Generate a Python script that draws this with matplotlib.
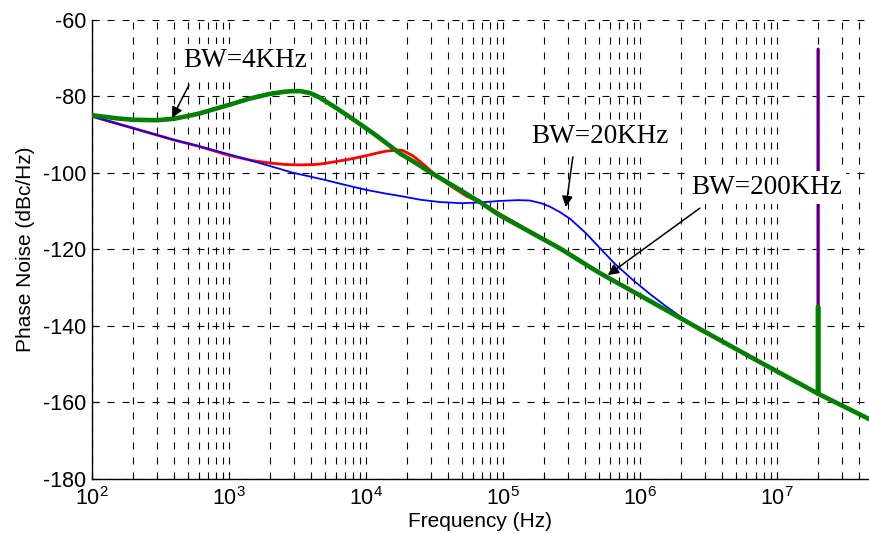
import matplotlib
matplotlib.use("Agg")
import matplotlib.pyplot as plt
from matplotlib.ticker import LogLocator, NullFormatter

plt.rcParams["font.family"] = ["Liberation Sans", "DejaVu Sans"]
plt.rcParams["mathtext.default"] = "regular"
plt.rcParams["axes.unicode_minus"] = False

# BW = 4 kHz loop (green)
f_green = [100, 150, 200, 300, 400, 500, 600, 800, 1000, 1400, 2000, 2500, 2900,
           3300, 3900, 4500, 5770, 7640, 10100, 12000, 14200, 17700, 22000, 30000,
           40000, 68000, 93000, 260000, 500000, 1e6, 2.74e6, 6.35e6, 2e7, 2e7, 2e7,
           4.7e7]
pn_green = [-84.9, -85.7, -86.1, -86.2, -85.8, -85.1, -84.5, -83.2, -82.2, -80.6,
            -79.3, -78.8, -78.6, -78.6, -79.1, -80.1, -82.5, -85.4, -88.4, -90.3,
            -92.3, -94.9, -96.9, -100.0, -102.6, -107.6, -110.9, -119.7, -126.0,
            -132.0, -140.8, -148.0, -157.7, -135.0, -157.7, -164.3]

# BW = 20 kHz loop (red)
f_red = [100, 200, 400, 600, 1000, 1500, 2000, 2600, 3300, 4200, 5000, 7600, 10000,
         12000, 14000, 17000, 18500, 22000, 26000, 31000, 40000, 54000, 68000, 93000,
         150000, 275000, 500000, 1e6, 2.74e6, 6.35e6, 2e7, 2e7, 2e7, 4.7e7]
pn_red = [-85.2, -88.3, -91.4, -93.0, -95.4, -96.8, -97.4, -97.8, -97.9, -97.8,
          -97.5, -96.4, -95.5, -94.8, -94.3, -94.0, -94.1, -95.5, -97.6, -100.0,
          -103.0, -106.0, -107.7, -110.5, -114.8, -120.0, -126.0, -132.0, -140.8,
          -148.0, -157.7, -67.6, -157.7, -164.3]

# BW = 200 kHz loop (blue)
f_blue = [100, 200, 400, 600, 1000, 2000, 2900, 5000, 7000, 10000, 14000, 17700,
          25000, 34700, 50000, 68000, 95000, 130000, 157000, 190000, 220000, 260000,
          310000, 400000, 510000, 650000, 890000, 1.2e6, 1.57e6, 2.1e6, 2.74e6,
          6.35e6, 2e7, 2e7, 2e7, 4.7e7]
pn_blue = [-85.2, -88.3, -91.4, -93.0, -95.1, -98.2, -99.9, -101.8, -103.1, -104.4,
           -105.4, -106.0, -107.0, -107.6, -107.9, -107.7, -107.3, -107.1, -107.2,
           -107.9, -108.8, -110.2, -112.0, -115.6, -119.6, -123.6, -128.0, -131.8,
           -135.0, -138.2, -140.8, -148.0, -157.7, -67.6, -157.7, -164.3]

fig = plt.figure(figsize=(8.69, 5.34), dpi=100)
ax = fig.add_axes([0.1059, 0.103, 0.894, 0.8596])

ax.semilogx(f_red, pn_red, color="#ff0000", linewidth=2.0, zorder=3)
ax.semilogx(f_blue, pn_blue, color="#0000ff", linewidth=1.3, zorder=4)
ax.semilogx(f_green, pn_green, color="#007f00", linewidth=3.3, zorder=5)

ax.set_xlim(100, 4.7e7)
ax.set_ylim(-180, -60)
ax.set_yticks(range(-180, -59, 20))
ax.xaxis.set_major_locator(LogLocator(base=10, numticks=20))
ax.xaxis.set_minor_locator(LogLocator(base=10, subs=range(2, 10), numticks=100))
ax.xaxis.set_minor_formatter(NullFormatter())

grid_kw = dict(color="black", linewidth=0.8, linestyle=(0, (6.3, 7.2)))
ax.grid(True, which="major", axis="both", **grid_kw)
ax.grid(True, which="minor", axis="x", **grid_kw)
ax.set_axisbelow(True)

for side in ["top", "right"]:
    ax.spines[side].set_visible(False)
for side in ["left", "bottom"]:
    ax.spines[side].set_linewidth(1.0)
ax.tick_params(which="major", direction="in", length=5, width=0.8, labelsize=15.5, pad=4)
ax.tick_params(which="minor", direction="in", length=3, width=0.8)
ax.tick_params(axis="x", which="major", pad=6)

ax.set_xlabel("Frequency (Hz)", fontsize=15, labelpad=1)
ax.set_ylabel("Phase Noise (dBc/Hz)", fontsize=15, labelpad=6)

txt_kw = dict(fontsize=19.5, family=["Liberation Serif", "DejaVu Serif"],
              ha="center", va="center", zorder=6,
              bbox=dict(boxstyle="square,pad=0.15", fc="white", ec="none"))
arrow_kw = dict(arrowstyle="-|>", color="black", lw=1.1, mutation_scale=16,
                shrinkA=0, shrinkB=0)

ax.text(1310, -70.6, "BW=4KHz", **txt_kw)
ax.annotate("", xy=(384, -85.6), xytext=(511, -77.0), arrowprops=arrow_kw, zorder=6)

ax.text(5.1e5, -90.5, "BW=20KHz", **txt_kw)
ax.annotate("", xy=(2.88e5, -108.9), xytext=(3.24e5, -95.8), arrowprops=arrow_kw, zorder=6)

ax.text(8.45e6, -103.9, "BW=200KHz", **txt_kw)
ax.annotate("", xy=(5.83e5, -126.7), xytext=(2.74e6, -109.2), arrowprops=arrow_kw, zorder=6)

fig.savefig("out.png", dpi=100)
